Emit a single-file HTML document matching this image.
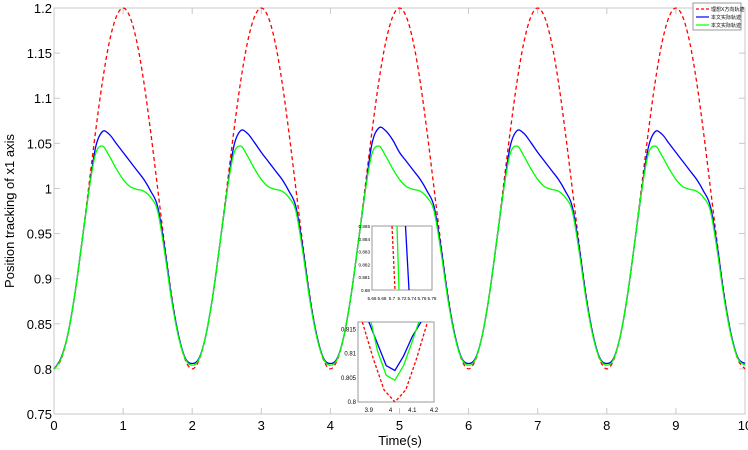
<!DOCTYPE html>
<html><head><meta charset="utf-8"><style>
body{margin:0;background:#fff;}
svg{display:block;font-family:"Liberation Sans","Noto Sans CJK SC",sans-serif;}
</style></head><body>
<svg id="c" width="748" height="450"></svg>
<script>
const redPeriod=[0.800,0.810,0.838,0.882,0.938,1.000,1.062,1.118,1.162,1.190,1.200,1.190,1.162,1.118,1.062,1.000,0.938,0.882,0.838,0.810];
const bluePeriod=[0.806,0.812,0.838,0.882,0.938,0.995,1.045,1.063,1.060,1.050,1.040,1.030,1.020,1.010,0.997,0.980,0.935,0.880,0.838,0.812];
const greenPeriod=[0.804,0.811,0.838,0.882,0.938,0.995,1.038,1.047,1.036,1.022,1.010,1.002,0.999,0.997,0.990,0.975,0.930,0.877,0.836,0.811];
const bluePeaks=[1.063,1.064,1.067,1.064,1.063];
const xTicks=[0,1,2,3,4,5,6,7,8,9,10];
const yTicks=[0.75,0.8,0.85,0.9,0.95,1,1.05,1.1,1.15,1.2];
const yTickLabels=["0.75","0.8","0.85","0.9","0.95","1","1.05","1.1","1.15","1.2"];
const legendLabels=["理想X方向轨迹","本文实际轨迹","本文实际轨迹"];
const inset1X=[5.66,5.68,5.7,5.72,5.74,5.76,5.78];
const inset1Y=[0.88,0.881,0.882,0.883,0.884,0.885];
const inset2X=[3.9,4,4.1,4.2];
const inset2Y=[0.8,0.805,0.81,0.815];
const zRed=[[3.87,0.8165],[3.92,0.809],[3.97,0.8025],[4.02,0.8],[4.07,0.8025],[4.12,0.809],[4.17,0.8165]];
const zBlue=[[3.9,0.8165],[3.94,0.812],[3.98,0.8075],[4.02,0.8065],[4.06,0.8095],[4.1,0.8135],[4.14,0.8165]];
const zGreen=[[3.91,0.8165],[3.94,0.8105],[3.98,0.8055],[4.02,0.8045],[4.06,0.8075],[4.1,0.8125],[4.13,0.8165]];
const z1Red=[[5.7,0.885],[5.706,0.88]];
const z1Green=[[5.71,0.885],[5.714,0.88]];
const z1Blue=[[5.727,0.885],[5.734,0.88]];

const svg=document.getElementById('c');
const NS='http://www.w3.org/2000/svg';
function mk(t,a,p){const e=document.createElementNS(NS,t);for(const k in a)e.setAttribute(k,a[k]);(p||svg).appendChild(e);return e;}
const X0=54,X1=745,Y0=414,Y1=8;
const sx=v=>X0+(v-0)/(10-0)*(X1-X0);
const sy=v=>Y0-(v-0.75)/(1.2-0.75)*(Y0-Y1);
function build(per,peaks){const out=[];for(let p=0;p<5;p++){for(let i=0;i<20;i++){let v=per[i];if(peaks&&i>=6&&i<=9)v+=peaks[p]-peaks[0];out.push([p*2+i*0.1,v]);}}out.push([10,per[0]]);return out;}
const red=build(redPeriod),blue=build(bluePeriod,bluePeaks),green=build(greenPeriod);
red[0][1]=0.8;blue[0][1]=0.8;green[0][1]=0.8;
function smooth(pts,fx,fy){const P=pts.map(p=>[fx(p[0]),fy(p[1])]);let d='M'+P[0][0]+','+P[0][1];for(let i=0;i<P.length-1;i++){const p0=P[Math.max(0,i-1)],p1=P[i],p2=P[i+1],p3=P[Math.min(P.length-1,i+2)];d+=` C${p1[0]+(p2[0]-p0[0])/6},${p1[1]+(p2[1]-p0[1])/6} ${p2[0]-(p3[0]-p1[0])/6},${p2[1]-(p3[1]-p1[1])/6} ${p2[0]},${p2[1]}`;}return d;}
const ax=mk('g',{});
mk('rect',{x:X0,y:Y1,width:X1-X0,height:Y0-Y1,fill:'#fff',stroke:'#c8c8c8'},ax);
xTicks.forEach(t=>{const x=sx(t);mk('line',{x1:x,x2:x,y1:Y0,y2:Y0-6,stroke:'#c8c8c8'},ax);mk('line',{x1:x,x2:x,y1:Y1,y2:Y1+6,stroke:'#c8c8c8'},ax);const tx=mk('text',{x:x,y:Y0+16,'font-size':13,'text-anchor':'middle'},ax);tx.textContent=t;});
yTicks.forEach((t,i)=>{const y=sy(t);mk('line',{x1:X0,x2:X0+6,y1:y,y2:y,stroke:'#c8c8c8'},ax);mk('line',{x1:X1,x2:X1-6,y1:y,y2:y,stroke:'#c8c8c8'},ax);const tx=mk('text',{x:X0-2,y:y+5,'font-size':13,'text-anchor':'end'},ax);tx.textContent=yTickLabels[i];});
const xt=mk('text',{x:400,y:445,'font-size':13,'text-anchor':'middle'});xt.textContent='Time(s)';
const yt=mk('text',{x:14,y:211,'font-size':13,'text-anchor':'middle',transform:'rotate(-90 14 211)'});yt.textContent='Position tracking of x1 axis';
const lr=mk('path',{d:smooth(red,sx,sy),fill:'none',stroke:'#ff0000','stroke-width':1.3,'stroke-dasharray':'4,3'});
const lb=mk('path',{d:smooth(blue,sx,sy),fill:'none',stroke:'#0000ff','stroke-width':1.3});
const lg=mk('path',{d:smooth(green,sx,sy),fill:'none',stroke:'#00ff00','stroke-width':1.3});
function inset(name,bx,by,bw,bh,xs,ys,lines,fmtX,fmtY,fs){const g=mk('g',{});
mk('rect',{x:bx,y:by,width:bw,height:bh,fill:'#fff',stroke:'#999'},g);
const ix=v=>bx+(v-xs[0])/(xs[xs.length-1]-xs[0])*bw, iy=v=>by+bh-(v-ys[0])/(ys[ys.length-1]-ys[0])*bh;
const cid='clip'+name;const cp=mk('clipPath',{id:cid},g);mk('rect',{x:bx,y:by,width:bw,height:bh},cp);
lines.forEach(([pts,col,dash])=>{const d='M'+pts.map(p=>ix(p[0])+','+iy(p[1])).join(' L');mk('path',{d:d,fill:'none',stroke:col,'stroke-width':1.3,'stroke-dasharray':dash||'none','clip-path':`url(#${cid})`},g);});
xs.forEach(v=>{const t=mk('text',{x:ix(v),y:by+bh+10,'font-size':fs,'text-anchor':'middle'},g);t.textContent=fmtX(v);});
ys.forEach(v=>{const t=mk('text',{x:bx-2,y:iy(v)+2,'font-size':fs,'text-anchor':'end'},g);t.textContent=fmtY(v);});}
inset('inset-top',372,226,60,64,inset1X,inset1Y,[[z1Red,'#ff0000','3,2'],[z1Green,'#00ff00'],[z1Blue,'#0000ff']],v=>String(v),v=>String(v),4.6);
inset('inset-bottom',358,322,76,80,[3.85,3.9,4,4.1,4.2],[0.8,0.8165],[[zRed,'#ff0000','3,2'],[zBlue,'#0000ff'],[zGreen,'#00ff00']],v=>v===3.85?'':String(v),v=>'',6);
inset2Y.forEach(v=>{const t=mk('text',{x:356,y:402-(v-0.8)/0.0165*80+2,'font-size':6,'text-anchor':'end'});t.textContent=String(v);});
const lgG=mk('g',{});
mk('rect',{x:693,y:3,width:48,height:27,fill:'#fff',stroke:'#999'},lgG);
const cols=['#ff0000','#0000ff','#00ff00'];
legendLabels.forEach((l,i)=>{const y=9+i*8;mk('line',{x1:696,x2:709,y1:y,y2:y,stroke:cols[i],'stroke-width':1.2,'stroke-dasharray':i?'none':'3,2'},lgG);const t=mk('text',{x:711,y:y+2,'font-size':5},lgG);t.textContent=l;});
</script>
</body></html>
